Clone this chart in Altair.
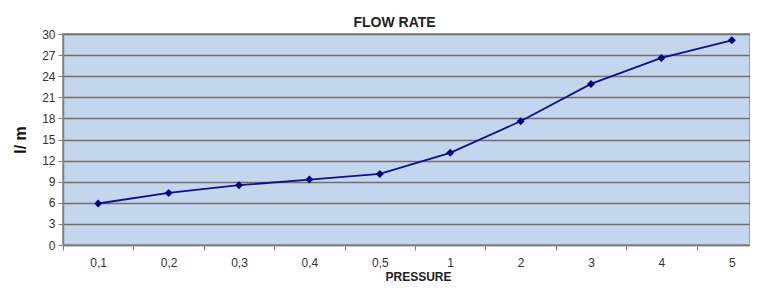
import altair as alt
import pandas as pd

pressure = ["0,1", "0,2", "0,3", "0,4", "0,5", "1", "2", "3", "4", "5"]
flow = [5.9, 7.4, 8.5, 9.3, 10.1, 13.1, 17.6, 22.9, 26.6, 29.1]
y_ticks = [0, 3, 6, 9, 12, 15, 18, 21, 24, 27, 30]

df = pd.DataFrame({"idx": list(range(len(pressure))), "pressure": pressure, "flow": flow})

FONT = "Liberation Sans"
STEP = 70.4
WIDTH = 687
label_array = "[" + ",".join("'" + p + "'" for p in pressure) + "]"

x = alt.X(
    "idx:Q",
    scale=alt.Scale(domain=[-0.5, -0.5 + WIDTH / STEP], nice=False, zero=False),
    axis=alt.Axis(
        title="PRESSURE",
        values=list(range(len(pressure))),
        labelExpr=label_array + "[datum.value]",
        labelAngle=0,
        tickOffset=-STEP / 2,
        labelOffset=STEP / 2,
        tickSize=5,
        tickColor="#808080",
        domainColor="#808080",
        domainWidth=1.5,
        labelPadding=7,
        labelFontSize=12,
        labelColor="#333333",
        labelFont=FONT,
        labelFlush=False,
        labelOverlap=False,
        titleFont=FONT,
        titleFontSize=12,
        titleFontWeight="bold",
        titleColor="#222222",
        titlePadding=3,
        titleX=355,
        grid=False,
    ),
)
y = alt.Y(
    "flow:Q",
    scale=alt.Scale(domain=[0, 30], nice=False),
    axis=alt.Axis(
        title="l/ m",
        values=y_ticks,
        tickSize=5,
        tickColor="#808080",
        domainColor="#808080",
        domainWidth=1.5,
        labelPadding=3,
        labelFontSize=12,
        labelColor="#333333",
        labelFont=FONT,
        titleFont=FONT,
        titleFontSize=16,
        titleFontWeight="bold",
        titleColor="#111111",
        titlePadding=13,
        grid=True,
        gridColor="#6e6e6e",
        gridWidth=1.3,
    ),
)

line = alt.Chart(df).mark_line(color="#101088", strokeWidth=1.8).encode(x=x, y=y)
pts = alt.Chart(df).mark_point(
    shape="diamond", filled=True, color="#000080", size=64, opacity=1
).encode(x=x, y=y)

chart = (
    alt.layer(line, pts)
    .properties(
        width=WIDTH,
        height=211,
        background="white",
        title=alt.TitleParams(
            "FLOW RATE",
            font=FONT,
            fontSize=14,
            fontWeight="bold",
            color="#222222",
            anchor="middle",
            frame="group",
            dx=-12,
            dy=9,
            offset=7,
        ),
        autosize=alt.AutoSizeParams(type="none"),
        padding={"left": 55, "top": 26, "right": 0, "bottom": 40},
    )
    .configure_view(fill="#c3d6ee", stroke="#a0a0a0", strokeWidth=2)
)

chart.save("out.html", embed_options={"renderer": "svg", "actions": False})
